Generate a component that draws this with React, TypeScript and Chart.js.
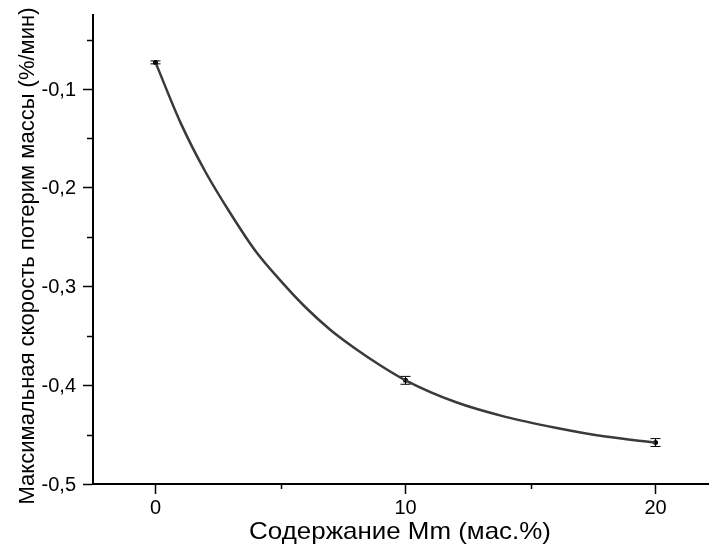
import React, { useEffect, useRef } from "react";
import { Chart, registerables } from "chart.js";

Chart.register(...registerables);

// Measured points
const pointX = [0, 10, 20];
const pointY = [-0.073, -0.395, -0.458];
const pointErr = [0.0015, 0.004, 0.004];

// Fitted curve
const curveX = [0, 1, 2, 3, 4, 5, 6, 7, 8, 9, 10, 12, 14, 16, 18, 20];
const curveY = [-0.073, -0.134, -0.184, -0.226, -0.264, -0.294, -0.321, -0.344, -0.363, -0.38, -0.395, -0.417, -0.432, -0.443, -0.452, -0.458];

// Axis ticks
const xMajorTicks = [0, 10, 20];
const xMinorTicks = [5, 15];
const yMajorTicks = [-0.5, -0.4, -0.3, -0.2, -0.1];
const yMinorTicks = [-0.45, -0.35, -0.25, -0.15, -0.05];

const xTitle = "Содержание Mm (мас.%)";
const yTitle = "Максимальная скорость потерим массы (%/мин)";

const FONT = "Arial, 'Liberation Sans', sans-serif";

export default function App() {
  const ref = useRef<HTMLCanvasElement | null>(null);

  useEffect(() => {
    const canvas = ref.current;
    if (!canvas) return;

    const extras = {
      id: "extras",
      afterDatasetsDraw(chart: any) {
        const ctx = chart.ctx;
        const xs = chart.scales.x;
        const ys = chart.scales.y;
        // error bars
        ctx.save();
        ctx.strokeStyle = "#000";
        ctx.lineWidth = 1;
        pointX.forEach((xv, i) => {
          const px = xs.getPixelForValue(xv);
          const top = ys.getPixelForValue(pointY[i] + pointErr[i]);
          const bot = ys.getPixelForValue(pointY[i] - pointErr[i]);
          ctx.beginPath();
          ctx.moveTo(px, top);
          ctx.lineTo(px, bot);
          ctx.moveTo(px - 5, top);
          ctx.lineTo(px + 5, top);
          ctx.moveTo(px - 5, bot);
          ctx.lineTo(px + 5, bot);
          ctx.stroke();
        });
        ctx.restore();
      },
      afterDraw(chart: any) {
        const ctx = chart.ctx;
        const xs = chart.scales.x;
        const ys = chart.scales.y;
        const area = chart.chartArea;
        ctx.save();
        ctx.strokeStyle = "#000";
        ctx.lineWidth = 1.5;
        // minor ticks
        yMinorTicks.forEach((v) => {
          const py = Math.round(ys.getPixelForValue(v)) + 0.5;
          ctx.beginPath();
          ctx.moveTo(area.left - 6, py);
          ctx.lineTo(area.left, py);
          ctx.stroke();
        });
        xMinorTicks.forEach((v) => {
          const px = Math.round(xs.getPixelForValue(v)) + 0.5;
          ctx.beginPath();
          ctx.moveTo(px, area.bottom);
          ctx.lineTo(px, area.bottom + 5);
          ctx.stroke();
        });
        // tick labels
        ctx.fillStyle = "#000";
        ctx.font = `20px ${FONT}`;
        ctx.textAlign = "right";
        ctx.textBaseline = "middle";
        yMajorTicks.forEach((v) => {
          const py = ys.getPixelForValue(v);
          ctx.fillText(v.toFixed(1).replace(".", ","), area.left - 17, py + 1);
        });
        ctx.textAlign = "center";
        ctx.textBaseline = "alphabetic";
        xMajorTicks.forEach((v) => {
          const px = xs.getPixelForValue(v);
          ctx.fillText(String(v), px, area.bottom + 30);
        });
        // titles
        ctx.save();
        ctx.translate(400, 539);
        ctx.scale(1.08, 1);
        ctx.font = `24px ${FONT}`;
        ctx.fillText(xTitle, 0, 0);
        ctx.restore();
        ctx.save();
        ctx.translate(34, 256);
        ctx.rotate(-Math.PI / 2);
        ctx.font = `22px ${FONT}`;
        ctx.fillText(yTitle, 0, 0);
        ctx.restore();
        ctx.restore();
      },
    };

    const chart = new Chart(canvas, {
      type: "scatter",
      data: {
        datasets: [
          {
            label: "fit",
            data: curveX.map((x, i) => ({ x, y: curveY[i] })),
            showLine: true,
            borderColor: "#3a3a3a",
            borderWidth: 2.5,
            pointRadius: 0,
            cubicInterpolationMode: "monotone",
            fill: false,
          },
          {
            label: "data",
            data: pointX.map((x, i) => ({ x, y: pointY[i] })),
            showLine: false,
            pointRadius: 2.5,
            pointBackgroundColor: "#000",
            pointBorderColor: "#000",
            pointBorderWidth: 0,
          },
        ],
      },
      options: {
        responsive: false,
        animation: false,
        devicePixelRatio: 1,
        layout: { padding: { top: 15, right: 0, left: 0, bottom: 0 } },
        plugins: {
          legend: { display: false },
          tooltip: { enabled: false },
        },
        scales: {
          x: {
            type: "linear",
            min: -2.5,
            max: 22.1,
            afterBuildTicks: (s: any) => {
              s.ticks = xMajorTicks.map((v) => ({ value: v }));
            },
            afterFit: (s: any) => {
              s.height = 62;
            },
            ticks: { display: false },
            grid: {
              drawOnChartArea: false,
              drawTicks: true,
              tickLength: 10,
              tickColor: "#000",
              tickWidth: 1.5,
            },
            border: { display: true, color: "#000", width: 2 },
          },
          y: {
            type: "linear",
            min: -0.5,
            max: -0.025,
            afterBuildTicks: (s: any) => {
              s.ticks = yMajorTicks.map((v) => ({ value: v }));
            },
            afterFit: (s: any) => {
              s.width = 93;
            },
            ticks: { display: false },
            grid: {
              drawOnChartArea: false,
              drawTicks: true,
              tickLength: 10,
              tickColor: "#000",
              tickWidth: 1.5,
            },
            border: { display: true, color: "#000", width: 2 },
          },
        },
      },
      plugins: [extras],
    } as any);

    return () => chart.destroy();
  }, []);

  return (
    <canvas
      ref={ref}
      width={712}
      height={546}
      style={{ position: "absolute", left: 0, top: 0, width: 712, height: 546, background: "#fff" }}
    />
  );
}
